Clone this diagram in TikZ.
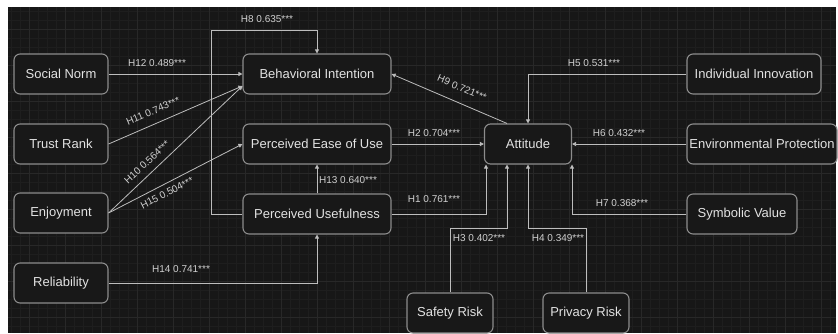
\documentclass[tikz,border=0pt]{standalone}
\usepackage{fontspec}
\setmainfont{Liberation Sans}
\usepackage{xcolor}
\usetikzlibrary{arrows.meta}

\definecolor{canvas}{HTML}{171717}
\definecolor{gridminor}{HTML}{1E1E1E}
\definecolor{gridmajor}{HTML}{282828}
\definecolor{boxline}{HTML}{8C8C8C}
\definecolor{boxfill}{HTML}{181818}
\definecolor{linkline}{HTML}{BDBDBD}
\definecolor{nametext}{HTML}{E2E2E2}
\definecolor{coeftext}{HTML}{D0D0D0}

\tikzset{
    factor/.style={draw=boxline, line width=1.1pt, fill=boxfill, rounded corners=6pt,
        minimum width=94pt, minimum height=40pt, inner sep=2pt,
        text=nametext, font=\fontsize{13}{15}\selectfont},
    link/.style={draw=linkline, line width=0.8pt, -{Triangle[width=4pt,length=4pt]}},
    coef/.style={text=coeftext, inner sep=0pt, font=\fontsize{10}{12}\selectfont}
}

\begin{document}
\begin{tikzpicture}[x=1pt, y=-1pt]
        % Page and dark canvas with grid
        \fill[white] (0,0) rectangle (838,333);
        \useasboundingbox (0,0) rectangle (838,333);
        \fill[canvas] (8,7) rectangle (836,333);
        \foreach \gx in {11,20,...,836} \draw[gridminor, line width=0.5pt] (\gx,7) -- (\gx,333);
        \foreach \gy in {11,20,...,333} \draw[gridminor, line width=0.5pt] (8,\gy) -- (836,\gy);
        \foreach \gx in {29,65,...,836} \draw[gridmajor, line width=0.7pt] (\gx,7) -- (\gx,333);
        \foreach \gy in {29,65,...,333} \draw[gridmajor, line width=0.7pt] (8,\gy) -- (836,\gy);
        % Left column: antecedents
        \node[factor] (sn)  at (61,74)  {Social Norm};
        \node[factor] (tr)  at (61,144) {Trust Rank};
        \node[factor] (enj) at (61,213) {Enjoyment};
        \node[factor] (rel) at (61,283) {Reliability};
        % Middle column
        \node[factor, minimum width=148pt] (bi)   at (317,74)  {Behavioral Intention};
        \node[factor, minimum width=148pt] (peou) at (317,144) {Perceived Ease of Use};
        \node[factor, minimum width=148pt] (pu)   at (317,214) {Perceived Usefulness};
        % Attitude and its drivers
        \node[factor, minimum width=87pt] (att) at (528,144) {Attitude};
        \node[factor, minimum width=134pt] (ii) at (754,74)  {Individual Innovation};
        \node[factor, minimum width=150pt] (ep) at (762,144) {Environmental Protection};
        \node[factor, minimum width=110pt] (sv) at (742,214) {Symbolic Value};
        \node[factor, minimum width=86pt]  (sr) at (450,313) {Safety Risk};
        \node[factor, minimum width=86pt]  (pr) at (586,313) {Privacy Risk};
        % Paths into Behavioral Intention
        \draw[link] (sn.east) -- (bi.west);
        \draw[link] (tr.east) -- ([yshift=-12pt]bi.west);
        \draw[link] (enj.east) -- ([yshift=-12pt]bi.west);
        \coordinate (h8turn) at (211,30);
        \draw[link] (pu.west) -| (h8turn) -| (bi.north);
        \draw[link] ([xshift=-21pt]att.north) -- (bi.east);
        % Paths into the TAM constructs
        \draw[link] (enj.east) -- (peou.west);
        \draw[link] (pu.north) -- (peou.south);
        \draw[link] (rel.east) -| (pu.south);
        % Paths into Attitude
        \draw[link] (peou.east) -- (att.west);
        \draw[link] (pu.east) -| ([xshift=-42pt]att.south);
        \draw[link] (sr.north) -- ++(0,-64) -| ([xshift=-21pt]att.south);
        \draw[link] (pr.north) -- ++(0,-64) -| (att.south);
        \draw[link] (sv.west) -| ([xshift=44pt]att.south);
        \draw[link] (ep.west) -- (att.east);
        \draw[link] (ii.west) -| (att.north);
        % Path coefficients
        \node[coef] (h12) at (157,63) {H12 0.489***};
        \node[coef, rotate=23] (h11) at (153,111) {H11 0.743***};
        \node[coef, rotate=43] (h10) at (147,162) {H10 0.564***};
        \node[coef, rotate=27] (h15) at (167,193) {H15 0.504***};
        \node[coef] (h8)  at (267,19)  {H8 0.635***};
        \node[coef, rotate=-23] (h9) at (462,88) {H9 0.721***};
        \node[coef] (h13) at (348,180) {H13 0.640***};
        \node[coef] (h2)  at (434,133) {H2 0.704***};
        \node[coef] (h1)  at (434,199) {H1 0.761***};
        \node[coef] (h14) at (181,269) {H14 0.741***};
        \node[coef] (h3)  at (479,238) {H3 0.402***};
        \node[coef] (h4)  at (558,238) {H4 0.349***};
        \node[coef] (h7)  at (622,203) {H7 0.368***};
        \node[coef] (h6)  at (619,133) {H6 0.432***};
        \node[coef] (h5)  at (594,63)  {H5 0.531***};
    \end{tikzpicture}
\end{document}
